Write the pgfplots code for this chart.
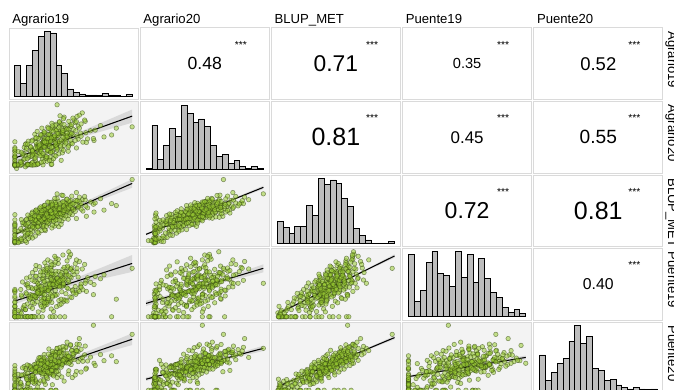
\documentclass[border=0pt]{standalone}
\usepackage{pgfplots}
\pgfplotsset{compat=1.18}
\usepackage{pgfplotstable}
\usepackage{fontspec}
\setmainfont{Liberation Sans}
\definecolor{scatbg}{HTML}{F3F3F3}
\definecolor{bordercol}{HTML}{DADADA}
\definecolor{histfill}{HTML}{BDBDBD}
\definecolor{ptfill}{HTML}{9ACD32}
\definecolor{ptedge}{HTML}{2F4010}

\pgfplotstableread{
A19 A20 BLUP P19 P20
0.0 1.5 0.2 0.0 0.0
0.0 1.6 0.5 0.0 0.3
0.3 0.4 0.8 0.0 0.0
0.0 1.3 0.1 1.2 0.0
1.2 1.7 0.6 0.0 1.5
0.0 1.2 0.9 0.3 0.0
0.5 1.4 0.4 0.0 2.2
0.0 2.1 0.7 2.0 0.0
2.0 1.5 0.3 0.0 0.4
0.0 1.8 1.3 0.0 1.0
1.5 3.2 1.7 2.5 0.0
0.4 1.4 1.1 0.0 2.8
2.6 1.6 1.9 3.1 0.6
0.0 2.7 1.5 1.8 0.0
1.0 1.3 1.6 0.0 1.9
1.8 4.5 2.4 2.2 0.0
0.0 1.5 2.8 4.6 3.1
3.5 2.9 2.2 0.0 2.5
2.1 1.7 2.6 3.9 1.2
2.4 3.8 3.3 5.5 2.9
0.0 1.6 3.6 3.0 4.4
4.1 5.2 3.1 0.0 2.2
1.2 2.4 3.8 6.2 0.0
3.0 1.4 3.5 2.6 3.7
5.2 4.0 3.9 4.1 1.8
1.7 3.3 3.2 0.0 5.0
2.7 5.6 4.2 6.8 3.3
0.0 3.9 4.6 3.3 4.8
3.6 1.5 4.4 5.9 2.6
4.8 4.6 4.9 2.0 0.0
1.9 6.1 4.1 7.4 4.2
6.3 2.8 4.7 4.4 5.6
2.2 1.8 4.3 0.0 3.0
3.1 5.3 5.2 6.0 4.0
0.0 4.2 5.8 7.9 5.3
4.4 6.5 5.5 3.7 2.9
2.5 1.6 5.1 5.2 6.4
5.6 3.7 5.9 8.6 3.6
3.8 7.4 5.4 4.6 0.0
1.4 5.0 5.7 2.8 4.7
6.8 4.4 5.3 6.9 5.1
2.9 2.1 5.6 0.0 3.4
4.0 6.0 5.0 9.3 6.0
3.3 3.5 5.9 4.0 2.1
0.0 5.7 5.2 5.8 4.4
4.9 8.2 5.7 3.0 5.8
2.0 1.4 5.4 7.0 3.9
7.5 4.9 5.1 5.0 4.9
4.3 6.2 6.3 7.1 5.5
2.8 4.1 6.8 9.0 4.3
5.7 7.8 6.1 4.8 6.6
3.5 1.7 6.5 6.1 3.2
6.2 5.4 6.9 10.2 5.0
1.6 6.9 6.2 3.5 7.3
4.7 3.3 6.6 0.0 4.6
0.0 5.8 6.0 8.0 5.9
5.0 8.7 6.7 5.7 2.6
3.2 4.8 6.4 6.6 6.8
8.0 6.4 6.8 7.7 4.1
4.6 6.6 7.5 7.0 6.1
5.8 8.4 7.2 8.8 5.4
3.1 5.2 7.8 5.6 6.9
6.5 7.1 7.1 9.7 4.8
2.4 4.3 7.6 6.3 7.6
5.1 9.5 7.4 4.2 5.2
4.0 1.8 7.9 8.3 6.3
7.2 6.0 7.3 6.8 3.9
3.7 7.7 7.0 10.8 7.0
5.5 5.5 7.7 3.8 5.7
0.0 6.8 7.2 7.6 6.6
4.9 8.9 7.5 5.3 8.1
6.0 3.9 7.8 9.1 5.0
2.9 6.3 7.1 0.0 6.4
5.3 7.4 7.6 7.9 4.5
4.2 5.0 7.3 11.4 6.0
6.9 10.1 7.9 6.5 7.4
3.4 4.7 7.0 8.5 0.0
5.9 7.9 7.7 4.9 6.8
4.4 6.1 7.4 7.3 5.5
1.9 8.0 7.2 9.9 6.2
6.4 5.8 7.9 6.0 8.4
4.8 1.5 7.5 8.1 5.1
5.6 9.2 7.3 5.0 7.1
3.9 7.0 7.8 10.3 6.5
10.5 6.7 7.6 7.4 5.8
5.2 7.6 8.5 8.2 6.9
6.6 9.4 8.1 10.0 6.1
3.8 6.4 8.8 6.9 7.7
7.4 8.3 8.3 11.6 5.9
4.5 5.6 8.6 5.4 8.3
5.9 10.6 8.9 9.2 6.7
2.6 7.2 8.2 12.3 7.4
6.2 1.6 8.7 7.5 6.2
8.3 8.8 8.4 4.6 8.9
4.1 6.9 8.0 9.8 0.0
5.4 9.9 8.6 8.7 7.2
6.9 7.3 8.9 0.0 6.6
3.3 5.0 8.3 10.9 7.9
5.7 8.1 8.1 6.2 5.3
7.8 11.3 8.7 9.5 8.6
4.8 7.8 8.5 7.2 6.4
6.1 6.1 8.2 13.2 7.0
0.0 8.6 8.8 8.4 7.6
5.0 9.0 8.4 5.8 9.4
9.2 7.5 8.6 10.6 6.0
3.6 4.4 8.0 8.9 7.3
6.4 10.2 8.9 11.1 8.1
12.2 8.4 8.3 7.8 6.8
5.8 8.5 9.5 9.0 7.5
7.1 10.4 9.2 11.4 6.9
4.6 7.4 9.8 8.0 8.5
6.7 9.3 9.1 12.6 7.1
3.9 6.8 9.6 6.5 9.1
7.6 11.8 9.4 9.7 7.8
5.3 8.0 9.9 13.7 8.2
6.3 1.7 9.3 10.1 6.5
8.7 9.7 9.7 7.1 9.6
4.9 7.1 9.0 11.9 7.7
6.0 10.9 9.5 0.0 8.0
7.3 8.7 9.8 9.4 10.2
5.5 6.2 9.2 14.1 7.3
3.0 9.1 9.6 8.6 6.3
6.8 12.6 9.3 10.7 8.8
9.6 8.2 9.9 12.0 7.9
5.1 9.6 9.1 6.8 8.4
7.0 7.6 9.7 11.0 0.0
4.3 10.0 9.4 9.2 9.9
6.5 8.9 9.0 13.0 7.0
8.1 11.1 9.8 10.4 8.7
5.7 5.9 9.5 8.2 7.4
6.2 9.8 9.2 15.3 8.9
13.5 9.0 9.6 9.9 8.3
4.7 8.3 9.3 11.7 6.7
6.6 9.5 10.5 10.2 8.3
8.0 11.6 10.2 12.8 7.7
5.4 8.2 10.8 9.1 9.3
7.5 10.3 10.1 13.9 8.0
4.4 7.7 10.6 7.6 10.1
8.6 12.9 10.4 11.3 8.6
6.1 9.1 10.9 14.8 9.0
7.2 6.9 10.3 10.7 7.2
9.9 10.8 10.7 8.3 10.7
5.6 8.6 10.0 12.4 8.5
7.7 13.4 10.5 0.0 9.2
6.4 9.9 10.8 11.8 11.3
3.6 8.4 10.2 15.8 8.1
8.3 11.0 10.6 9.6 9.7
5.9 7.3 10.1 13.4 7.5
7.0 12.1 10.4 10.9 0.0
10.8 9.4 10.9 12.2 8.8
6.0 10.7 10.0 8.8 10.4
4.9 8.8 10.7 14.5 9.5
7.9 14.2 10.3 11.5 8.4
6.8 9.7 10.6 9.3 11.8
15.2 10.1 10.2 12.9 9.1
5.2 11.4 10.8 10.0 7.9
7.4 8.1 10.4 16.4 8.9
7.3 10.6 11.5 11.2 9.0
8.8 12.4 11.2 13.6 8.4
6.0 9.2 11.8 10.1 10.3
8.2 11.7 11.1 14.6 9.3
5.0 8.5 11.6 8.7 11.0
9.4 13.8 11.4 12.3 8.7
6.7 10.0 11.9 16.0 9.8
7.9 7.9 11.3 11.6 12.1
11.2 11.3 11.7 9.4 9.6
6.3 12.8 11.0 13.3 10.6
8.5 9.6 11.8 0.0 8.9
4.8 11.0 11.2 12.7 9.2
7.6 14.6 11.5 10.5 11.5
9.0 10.2 11.9 15.1 9.9
6.1 8.7 11.4 11.9 0.0
17.3 12.8 11.6 5.4 8.8
7.1 12.2 11.3 9.8 8.6
8.9 10.5 11.7 17.2 10.9
8.1 11.5 12.5 12.1 9.7
9.6 13.3 12.2 14.4 9.3
6.6 10.1 12.8 11.0 11.2
9.0 12.7 12.1 15.6 10.0
5.8 9.8 12.6 10.3 12.7
10.1 15.3 12.4 13.0 9.4
7.4 11.1 12.9 17.7 10.8
8.7 8.8 12.3 12.6 13.4
12.9 12.0 12.7 10.6 10.2
7.0 14.0 12.0 14.0 11.7
9.3 10.9 12.8 18.4 9.9
16.5 10.7 12.2 0.0 10.6
6.2 11.9 12.6 11.4 0.0
8.4 16.2 12.4 15.2 11.1
10.6 10.4 12.9 13.8 14.2
8.8 12.5 13.5 13.1 10.5
10.3 14.5 13.2 16.3 11.6
7.2 11.2 13.8 12.0 12.9
11.5 17.5 13.4 14.7 10.1
9.5 10.8 13.1 19.2 13.8
14.6 13.6 13.7 11.7 11.0
9.7 13.9 14.5 15.0 12.3
11.0 16.8 14.2 17.0 15.9
8.0 12.6 14.8 13.6 11.4
20.0 13.2 19.6 14.9 17.2
7.2 20.0 15.2 10.3 12.9
9.2 12.4 13.0 20.0 8.3
13.4 9.6 12.0 6.8 20.0
0.9 2.6 0.6 1.5 0.9
0.0 1.4 0.3 3.2 1.1
1.8 0.9 0.8 0.0 0.0
0.0 3.0 0.5 0.8 1.7
0.6 1.6 0.2 0.0 3.4
2.3 1.5 1.4 0.0 0.2
0.0 3.6 1.8 4.4 2.0
1.1 1.7 1.2 1.1 0.0
3.0 2.2 1.6 0.0 3.3
0.0 4.1 2.5 0.0 1.4
2.7 1.5 2.9 5.8 0.0
3.9 2.0 3.4 7.2 1.0
0.6 5.6 3.7 1.9 4.9
2.2 1.6 3.0 0.0 2.0
4.6 4.3 3.9 4.8 0.0
1.0 2.3 4.5 8.4 2.4
5.1 6.9 4.2 3.5 5.9
3.3 1.5 4.8 0.0 4.0
0.0 4.9 4.0 6.3 0.0
4.9 2.5 5.3 10.4 3.1
1.8 7.8 5.8 2.2 6.7
3.9 1.7 5.1 7.9 5.6
6.4 5.5 5.6 0.0 1.7
2.1 3.4 5.9 9.6 7.8
5.4 8.6 5.2 4.3 4.0
0.0 6.4 5.5 1.3 3.6
3.0 4.5 5.0 6.6 2.5
7.9 2.9 5.8 5.4 7.1
2.3 8.8 6.2 8.9 2.1
5.5 2.6 6.6 11.2 8.0
7.1 6.9 6.0 3.1 5.7
3.6 9.6 6.9 6.0 0.0
1.3 4.6 6.4 10.7 6.9
6.6 3.4 6.7 1.6 4.4
4.0 7.2 6.3 7.8 8.6
7.6 8.7 7.1 3.6 8.5
2.0 6.6 7.4 11.9 3.4
5.7 10.8 7.8 8.0 7.9
3.5 3.6 7.2 12.4 5.6
8.4 7.5 7.6 5.2 2.8
4.5 2.3 7.0 9.3 9.2
6.2 9.8 7.9 2.4 6.1
1.1 5.4 7.3 6.7 4.7
5.0 11.3 7.7 10.9 8.8
3.0 6.0 7.5 4.4 3.8
7.0 4.2 7.1 13.1 7.3
4.1 8.2 7.8 7.1 10.0
9.1 5.7 7.4 8.6 4.9
2.7 7.0 7.6 0.0 6.9
5.9 2.9 7.2 9.8 5.4
8.7 10.5 8.4 5.1 9.5
3.0 5.8 8.6 13.6 4.6
6.5 11.9 8.1 9.9 8.0
4.3 4.3 8.9 12.8 7.0
7.9 9.2 8.3 3.9 10.6
2.2 7.9 8.7 10.2 5.2
6.0 12.5 8.0 7.0 9.7
5.3 3.5 8.5 14.4 6.3
9.8 8.0 8.8 8.0 3.9
4.0 9.6 8.2 1.5 8.2
7.2 6.4 8.6 11.8 11.1
3.4 10.9 8.4 6.4 6.5
8.1 5.2 8.9 9.4 8.0
5.6 13.1 8.3 12.9 5.7
9.4 11.4 9.3 6.1 10.1
3.5 6.7 9.7 14.5 5.5
7.5 12.9 9.1 10.8 8.8
4.8 5.0 9.5 13.8 7.8
8.9 10.1 9.9 4.8 11.4
2.9 8.8 9.2 11.3 6.2
6.9 13.6 9.6 8.1 10.8
5.4 4.0 9.0 15.6 7.0
10.3 9.0 9.8 9.3 4.7
4.5 10.6 9.4 3.2 9.2
7.8 7.3 9.1 12.9 12.3
3.8 11.8 9.7 7.4 7.2
8.3 6.0 9.5 10.0 9.5
6.3 14.3 9.3 14.2 6.1
11.6 8.5 9.9 8.3 8.9
10.0 12.4 10.4 7.3 10.9
4.2 7.6 10.8 15.4 6.4
8.4 13.9 10.1 11.7 9.6
5.5 6.0 10.6 14.9 8.7
9.7 11.2 10.9 5.9 12.2
3.6 9.9 10.2 12.5 7.0
7.6 14.8 10.7 9.2 11.6
6.1 5.3 10.0 16.9 7.9
11.3 10.3 10.5 10.1 5.6
5.0 11.7 10.3 4.3 10.0
8.7 8.2 10.8 13.9 13.1
4.6 12.8 10.1 8.5 8.2
9.1 7.0 10.6 11.2 10.4
12.4 9.5 10.9 12.0 9.0
10.8 13.4 11.3 8.2 11.9
5.1 8.5 11.7 16.6 7.4
9.2 14.9 11.1 12.8 10.5
6.3 6.9 11.6 16.0 9.7
10.4 12.0 11.9 6.9 13.0
4.4 10.8 11.2 13.8 8.0
8.3 15.7 11.5 10.3 12.5
7.0 7.6 11.8 18.0 8.8
12.1 11.4 11.4 11.0 6.5
5.7 12.7 11.0 5.6 11.1
9.5 9.1 11.7 14.7 14.0
11.3 14.1 12.3 9.1 12.6
5.6 9.6 12.7 17.5 8.3
9.9 15.9 12.1 13.9 11.3
6.9 8.3 12.5 16.8 10.5
11.0 12.8 12.9 7.8 14.1
7.7 16.6 12.2 11.2 13.2
8.2 10.0 12.8 19.0 9.1
13.7 12.2 12.4 12.4 7.6
6.4 13.5 12.0 6.4 12.0
12.0 14.9 13.3 10.3 13.6
6.8 10.5 13.8 18.6 9.2
10.6 16.4 13.1 14.9 12.1
8.9 11.3 13.6 8.9 14.8
11.9 15.3 14.4 16.1 10.9
8.2 12.1 14.7 11.3 13.5
10.5 14.8 15.6 17.5 12.2
}\dat

\pgfplotstableread{
x y
0 92
1 39
2 92
3 139
4 182
5 197
6 192
7 92
8 69
9 22
10 11
11 7
12 4
13 4
14 2
15 8
16 4
17 2
18 0
19 5
20 0
}\hA

\pgfplotstableread{
x y
0 3
1 135
2 32
3 75
4 125
5 102
6 195
7 172
8 144
9 154
10 130
11 75
12 40
13 47
14 19
15 27
16 9
17 3
18 9
19 3
20 0
}\hB

\pgfplotstableread{
x y
0 67
1 49
2 30
3 52
4 52
5 114
6 85
7 197
8 177
9 192
10 182
11 137
12 112
13 45
14 25
15 10
16 0
17 0
18 0
19 5
20 0
}\hC

\pgfplotstableread{
x y
0 190
1 47
2 79
3 164
4 197
5 132
6 125
7 92
8 197
9 119
10 190
11 105
12 177
13 117
14 74
15 59
16 27
17 12
18 21
19 9
20 0
}\hD

\pgfplotstableread{
x y
0 107
1 31
2 54
3 81
4 96
5 149
6 196
7 142
8 164
9 66
10 59
11 29
12 33
13 16
14 9
15 4
16 9
17 4
18 2
19 4
20 0
}\hE

\pgfplotsset{
 panel/.style={scale only axis, width=96.75pt, height=53.625pt, anchor=north west,
   xmin=-1, xmax=21, xtick=\empty, ytick=\empty,
   axis line style={draw=bordercol, line width=0.75pt}},
 scat/.style={panel, ymin=-1, ymax=21, axis background/.style={fill=scatbg}},
 hist/.style={panel, ymin=-9.85, ymax=206.85},
 corr/.style={panel, ymin=0, ymax=1},
 pts/.style={only marks, mark=*, mark size=1.7pt,
   mark options={fill=ptfill, fill opacity=0.55, draw=ptedge, draw opacity=0.55, line width=0.4pt}},
 band/.style={draw=none, fill=gray!60, fill opacity=0.4},
 fit/.style={black, line width=0.8pt, no marks},
 bars/.style={ybar interval, fill=histfill, draw=black, line width=0.6pt},
}
\newcommand{\cnum}[2]{\node[font=\fontsize{#1}{#1}\selectfont, inner sep=0pt] at (rel axis cs:0.5,0.5) {#2};
  \node[font=\fontsize{7.7}{8}\selectfont, inner sep=0pt] at (rel axis cs:0.78,0.766) {***};}
\newcommand{\strip}{\fontsize{9.85}{11}\selectfont}

\begin{document}
\begin{tikzpicture}
\useasboundingbox (0,0) rectangle (505.5pt,-291.75pt);
\clip (0,0) rectangle (505.5pt,-291.75pt);

% column strip labels
\node[anchor=base west, inner sep=0pt, font=\strip] at (9pt,-17.25pt) {Agrario19};
\node[anchor=base west, inner sep=0pt, font=\strip] at (107.4pt,-17.25pt) {Agrario20};
\node[anchor=base west, inner sep=0pt, font=\strip] at (205.8pt,-17.25pt) {BLUP\_MET};
\node[anchor=base west, inner sep=0pt, font=\strip] at (304.2pt,-17.25pt) {Puente19};
\node[anchor=base west, inner sep=0pt, font=\strip] at (402.6pt,-17.25pt) {Puente20};
% row strip labels (cut by the right edge, as in the reference)
\node[anchor=base west, rotate=-90, inner sep=0pt, font=\strip] at (501pt,-23.25pt) {Agrario19};
\node[anchor=base west, rotate=-90, inner sep=0pt, font=\strip] at (501pt,-78.375pt) {Agrario20};
\node[anchor=base west, rotate=-90, inner sep=0pt, font=\strip] at (501pt,-133.5pt) {BLUP\_MET};
\node[anchor=base west, rotate=-90, inner sep=0pt, font=\strip] at (501pt,-188.625pt) {Puente19};
\node[anchor=base west, rotate=-90, inner sep=0pt, font=\strip] at (501pt,-243.75pt) {Puente20};

% ---------- row 1
\begin{axis}[hist, at={(6.75pt,-21pt)}]
\addplot[bars] table[x=x,y=y]{\hA};
\end{axis}
\begin{axis}[corr, at={(105.15pt,-21pt)}]\cnum{13.2}{0.48}\end{axis}
\begin{axis}[corr, at={(203.55pt,-21pt)}]\cnum{17.1}{0.71}\end{axis}
\begin{axis}[corr, at={(301.95pt,-21pt)}]\cnum{10.95}{0.35}\end{axis}
\begin{axis}[corr, at={(400.35pt,-21pt)}]\cnum{13.85}{0.52}\end{axis}

% ---------- row 2
\begin{axis}[scat, at={(6.75pt,-76.125pt)}]
\addplot[pts] table[x=A19,y=A20]{\dat};
\addplot[band] coordinates {(0,2.77) (5.25,6.56) (10,9.28) (15,11.9) (20,14.47) (20,18.53) (15,14.66) (10,10.82) (5.25,7.42) (0,4.43)} -- cycle;
\addplot[fit] coordinates {(0,3.6) (20,16.5)};
\end{axis}
\begin{axis}[hist, at={(105.15pt,-76.125pt)}]
\addplot[bars] table[x=x,y=y]{\hB};
\end{axis}
\begin{axis}[corr, at={(203.55pt,-76.125pt)}]\cnum{18.75}{0.81}\end{axis}
\begin{axis}[corr, at={(301.95pt,-76.125pt)}]\cnum{12.7}{0.45}\end{axis}
\begin{axis}[corr, at={(400.35pt,-76.125pt)}]\cnum{14.35}{0.55}\end{axis}

% ---------- row 3
\begin{axis}[scat, at={(6.75pt,-131.25pt)}]
\addplot[pts] table[x=A19,y=BLUP]{\dat};
\addplot[band] coordinates {(0,2.21) (5.25,6.58) (10,10.08) (15,13.59) (20,17.08) (20,19.72) (15,15.39) (10,11.08) (5.25,7.14) (0,3.29)} -- cycle;
\addplot[fit] coordinates {(0,2.75) (20,18.4)};
\end{axis}
\begin{axis}[scat, at={(105.15pt,-131.25pt)}]
\addplot[pts] table[x=A20,y=BLUP]{\dat};
\addplot[band] coordinates {(0,2.41) (7.6,8.09) (12,11.19) (16,13.95) (20,16.69) (20,17.71) (16,14.67) (12,11.65) (7.6,8.39) (0,3.09)} -- cycle;
\addplot[fit] coordinates {(0,2.75) (20,17.2)};
\end{axis}
\begin{axis}[hist, at={(203.55pt,-131.25pt)}]
\addplot[bars] table[x=x,y=y]{\hC};
\end{axis}
\begin{axis}[corr, at={(301.95pt,-131.25pt)}]\cnum{17.25}{0.72}\end{axis}
\begin{axis}[corr, at={(400.35pt,-131.25pt)}]\cnum{18.75}{0.81}\end{axis}

% ---------- row 4
\begin{axis}[scat, at={(6.75pt,-186.375pt)}]
\addplot[pts] table[x=A19,y=P19]{\dat};
\addplot[band] coordinates {(0,3.79) (5.25,7.33) (10,9.65) (15,11.74) (20,13.8) (20,19.0) (15,15.28) (10,11.61) (5.25,8.43) (0,5.91)} -- cycle;
\addplot[fit] coordinates {(0,4.85) (20,16.4)};
\end{axis}
\begin{axis}[scat, at={(105.15pt,-186.375pt)}]
\addplot[pts] table[x=A20,y=P19]{\dat};
\addplot[band] coordinates {(0,3.29) (7.6,7.84) (12,10.03) (16,11.87) (20,13.68) (20,16.12) (16,13.61) (12,11.13) (7.6,8.56) (0,4.91)} -- cycle;
\addplot[fit] coordinates {(0,4.1) (20,14.9)};
\end{axis}
\begin{axis}[scat, at={(203.55pt,-186.375pt)}]
\addplot[pts] table[x=BLUP,y=P19]{\dat};
\addplot[band] coordinates {(0,0.46) (8.3,8.11) (12,11.34) (16,14.77) (20,18.17) (20,19.23) (16,15.49) (12,11.78) (8.3,8.41) (0,1.24)} -- cycle;
\addplot[fit] coordinates {(0,0.85) (20,18.7)};
\end{axis}
\begin{axis}[hist, at={(301.95pt,-186.375pt)}]
\addplot[bars] table[x=x,y=y]{\hD};
\end{axis}
\begin{axis}[corr, at={(400.35pt,-186.375pt)}]\cnum{11.8}{0.40}\end{axis}

% ---------- row 5
\begin{axis}[scat, at={(6.75pt,-241.5pt)}]
\addplot[pts] table[x=A19,y=P20]{\dat};
\addplot[band] coordinates {(0,2.67) (5.25,6.25) (10,8.87) (15,11.41) (20,13.91) (20,17.49) (15,13.85) (10,10.23) (5.25,7.01) (0,4.13)} -- cycle;
\addplot[fit] coordinates {(0,3.4) (20,15.7)};
\end{axis}
\begin{axis}[scat, at={(105.15pt,-241.5pt)}]
\addplot[pts] table[x=A20,y=P20]{\dat};
\addplot[band] coordinates {(0,2.86) (7.6,6.77) (12,8.73) (16,10.42) (20,12.08) (20,13.72) (16,11.58) (12,9.47) (7.6,7.25) (0,3.94)} -- cycle;
\addplot[fit] coordinates {(0,3.4) (20,12.9)};
\end{axis}
\begin{axis}[scat, at={(203.55pt,-241.5pt)}]
\addplot[pts] table[x=BLUP,y=P20]{\dat};
\addplot[band] coordinates {(0,0.71) (8.3,7.22) (12,9.94) (16,12.82) (20,15.67) (20,16.73) (16,13.54) (12,10.38) (8.3,7.52) (0,1.49)} -- cycle;
\addplot[fit] coordinates {(0,1.1) (20,16.2)};
\end{axis}
\begin{axis}[scat, at={(301.95pt,-241.5pt)}]
\addplot[pts] table[x=P19,y=P20]{\dat};
\addplot[band] coordinates {(0,3.77) (8,6.34) (12,7.45) (16,8.49) (20,9.5) (20,10.7) (16,9.35) (12,8.03) (8,6.78) (0,4.63)} -- cycle;
\addplot[fit] coordinates {(0,4.2) (20,10.1)};
\end{axis}
\begin{axis}[hist, at={(400.35pt,-241.5pt)}]
\addplot[bars] table[x=x,y=y]{\hE};
\end{axis}
\end{tikzpicture}
\end{document}
